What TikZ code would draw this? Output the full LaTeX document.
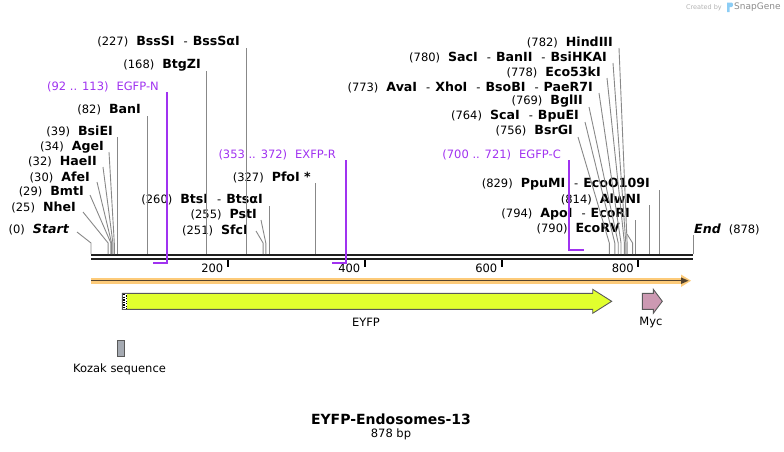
\documentclass[tikz,border=0pt]{standalone}
\usepackage{fontspec}
\setmainfont{DejaVu Sans}
\usetikzlibrary{positioning}
\definecolor{cutgray}{RGB}{136,136,136}
\definecolor{primercol}{RGB}{160,50,240}
\definecolor{eyfpcol}{RGB}{225,255,46}
\definecolor{myccol}{RGB}{204,153,178}
\definecolor{kozakcol}{RGB}{165,170,178}
\definecolor{seqorange}{RGB}{253,203,122}
\definecolor{seqbrown}{RGB}{85,68,45}
\definecolor{sgblue}{RGB}{140,205,245}
\newcommand{\nm}[1]{{\fontsize{12.6}{14}\selectfont\bfseries #1}}
\newcommand{\orsep}{\hspace{9pt}-\hspace{5pt}}

\begin{document}
\begin{tikzpicture}[x=1pt,y=-1pt,
  every node/.style={inner sep=0pt},
  lbl/.style={font=\fontsize{11.5}{13}\selectfont,anchor=east},
  plbl/.style={lbl,text=primercol},
  cut/.style={draw=cutgray,line width=0.9pt},
  prm/.style={draw=primercol,line width=2pt},
  feat/.style={draw=black!65,line width=0.9pt}]
\useasboundingbox (0,0) rectangle (784,451);

% sequence line
\draw[line width=2.3pt,black!88] (91,255.2) -- (693,255.2);
\draw[line width=2.3pt,black!88] (91,259.2) -- (693,259.2);

\draw[line width=2pt] (227.5,260) -- (227.5,267);
\draw[line width=2pt] (364.5,260) -- (364.5,267);
\draw[line width=2pt] (501.5,260) -- (501.5,267);
\draw[line width=2pt] (638,260) -- (638,267);
\node[lbl] (k200) at (223.5,268) {200};
\node[lbl] (k400) at (360.5,268) {400};
\node[lbl] (k600) at (497.5,268) {600};
\node[lbl] (k800) at (634,268) {800};

% sites on the sequence
\coordinate (s0) at (91,254);
\coordinate (s25) at (108.1,254);
\coordinate (s29) at (110.9,254);
\coordinate (s30) at (111.6,254);
\coordinate (s32) at (112.9,254);
\coordinate (s34) at (114.3,254);
\coordinate (s39) at (117.7,254);
\coordinate (s82) at (147.2,254);
\coordinate (s168) at (206.2,254);
\coordinate (s227) at (246.6,254);
\coordinate (s251) at (263.1,254);
\coordinate (s255) at (265.8,254);
\coordinate (s260) at (269.3,254);
\coordinate (s327) at (315.2,254);
\coordinate (s756) at (609.3,254);
\coordinate (s764) at (614.8,254);
\coordinate (s769) at (618.2,254);
\coordinate (s773) at (621,254);
\coordinate (s778) at (624.4,254);
\coordinate (s780) at (625.8,254);
\coordinate (s782) at (627.1,254);
\coordinate (s790) at (632.6,254);
\coordinate (s794) at (635.4,254);
\coordinate (s814) at (649.1,254);
\coordinate (s829) at (659.4,254);
\coordinate (s878) at (693,254);

% left group
\node[lbl] (n0) at (69,230) {(0)\hspace{8pt}\nm{\itshape Start}};
\node[lbl] (n25) at (76,207) {(25)\hspace{8pt}\nm{NheI}};
\node[lbl] (n29) at (84,192) {(29)\hspace{8pt}\nm{BmtI}};
\node[lbl] (n30) at (90,177) {(30)\hspace{8pt}\nm{AfeI}};
\node[lbl] (n32) at (97,162) {(32)\hspace{8pt}\nm{HaeII}};
\node[lbl] (n34) at (104,147) {(34)\hspace{8pt}\nm{AgeI}};
\node[lbl] (n39) at (113,131) {(39)\hspace{8pt}\nm{BsiEI}};
\node[lbl] (n82) at (141,110) {(82)\hspace{8pt}\nm{BanI}};
\node[lbl] (n168) at (201,65) {(168)\hspace{8pt}\nm{BtgZI}};
\node[lbl] (n227) at (240,42) {(227)\hspace{8pt}\nm{BssSI}\orsep\nm{BssSαI}};
\node[lbl] (n251) at (248,230) {(251)\hspace{8pt}\nm{SfcI}};
\node[lbl] (n255) at (257,215) {(255)\hspace{8pt}\nm{PstI}};
\node[lbl] (n260) at (263,200) {(260)\hspace{8pt}\nm{BtsI}\orsep\nm{BtsαI}};
\node[lbl] (n327) at (311,177) {(327)\hspace{8pt}\nm{PfoI *}};

\draw[cut] (s0) -- ++(0,-11) -- ([shift={(8,2)}]n0.east);
\draw[cut] (s25) -- ++(0,-11) -- ([shift={(7,5)}]n25.east);
\draw[cut] (s29) -- ++(0,-11) -- ([shift={(6,3)}]n29.east);
\draw[cut] (s30) -- ++(0,-11) -- ([shift={(7,5)}]n30.east);
\draw[cut] (s32) -- ++(0,-11) -- ([shift={(6,5)}]n32.east);
\draw[cut] (s34) -- ++(0,-11) -- ([shift={(5,5)}]n34.east);
\draw[cut] (s39) -- (s39 |- n39.south);
\draw[cut] (s82) -- (s82 |- n82.south);
\draw[cut] (s168) -- (s168 |- n168.south);
\draw[cut] (s227) -- (s227 |- n227.south);
\draw[cut] (s251) -- ++(0,-11) -- ([shift={(8,1)}]n251.east);
\draw[cut] (s255) -- ++(0,-11) -- ([shift={(4,5)}]n255.east);
\draw[cut] (s260) -- (s260 |- n260.south);
\draw[cut] (s327) -- (s327 |- n327.south);

% right group
\node[lbl] (n756) at (573,131) {(756)\hspace{8pt}\nm{BsrGI}};
\node[lbl] (n764) at (579,116) {(764)\hspace{8pt}\nm{ScaI}\orsep\nm{BpuEI}};
\node[lbl] (n769) at (583,101) {(769)\hspace{8pt}\nm{BglII}};
\node[lbl] (n773) at (593,87) {(773)\hspace{8pt}\nm{AvaI}\orsep\nm{XhoI}\orsep\nm{BsoBI}\orsep\nm{PaeR7I}};
\node[lbl] (n778) at (601,72) {(778)\hspace{8pt}\nm{Eco53kI}};
\node[lbl] (n780) at (607,57) {(780)\hspace{8pt}\nm{SacI}\orsep\nm{BanII}\orsep\nm{BsiHKAI}};
\node[lbl] (n782) at (613,42) {(782)\hspace{8pt}\nm{HindIII}};
\node[lbl] (n790) at (620,229) {(790)\hspace{8pt}\nm{EcoRV}};
\node[lbl] (n794) at (630,214) {(794)\hspace{8pt}\nm{ApoI}\orsep\nm{EcoRI}};
\node[lbl] (n814) at (641,199) {(814)\hspace{8pt}\nm{AlwNI}};
\node[lbl] (n829) at (650,184) {(829)\hspace{8pt}\nm{PpuMI}\orsep\nm{EcoO109I}};
\node[lbl,anchor=west] (n878) at (694,229) {\nm{\itshape End}\hspace{8pt}(878)};

\draw[cut] (s756) -- ++(0,-11) -- ([shift={(5,6)}]n756.east);
\draw[cut] (s764) -- ++(0,-11) -- ([shift={(6,6)}]n764.east);
\draw[cut] (s769) -- ++(0,-11) -- ([shift={(6,6)}]n769.east);
\draw[cut] (s773) -- ++(0,-11) -- ([shift={(6,6)}]n773.east);
\draw[cut] (s778) -- ++(0,-11) -- ([shift={(6,6)}]n778.east);
\draw[cut] (s780) -- ++(0,-11) -- ([shift={(6,6)}]n780.east);
\draw[cut] (s782) -- ++(0,-11) -- ([shift={(6,6)}]n782.east);
\draw[cut] (s790) -- ++(0,-11) -- ([shift={(7,5)}]n790.east);
\draw[cut] (s794) -- (s794 |- n794.south);
\draw[cut] (s814) -- (s814 |- n814.south);
\draw[cut] (s829) -- (s829 |- n829.south);
\draw[cut] (s878) -- (s878 |- n878.south);

% primers
\node[plbl] (p92) at (159,87) {(92 .. 113)\hspace{8pt}EGFP-N};
\node[plbl] (p353) at (336,155) {(353 .. 372)\hspace{8pt}EXFP-R};
\node[plbl] (p700) at (561,155) {(700 .. 721)\hspace{8pt}EGFP-C};
\coordinate (e92) at (153,263);
\coordinate (e113) at (167,263);
\coordinate (e353) at (332,263);
\coordinate (e372) at (346,263);
\coordinate (e700) at (569,250);
\coordinate (e721) at (584,250);
\draw[prm] (e113 |- p92.south) -- (e113) -- (e92);
\draw[prm] (e372 |- p353.south) -- (e372) -- (e353);
\draw[prm] (e700 |- p700.south) -- (e700) -- (e721);

% sequence direction bar
\fill[seqorange] (91,277.5) rectangle (684,284);
\fill[seqorange] (681,274.5) -- (691,280.7) -- (681,287) -- cycle;
\draw[seqbrown,line width=1.5pt] (91,280.7) -- (683,280.7);
\fill[seqbrown] (681,277.4) -- (688.5,280.7) -- (681,284) -- cycle;

% features
\draw[feat,fill=eyfpcol] (122.3,293.3) -- (592.7,293.3) -- (592.7,289.3) -- (611.7,301.3)
  -- (592.7,313.3) -- (592.7,309.3) -- (122.3,309.3) -- cycle;
\fill[white] (122.8,293.8) rectangle (127,308.8);
\draw[line width=1.3pt,dash pattern=on 1.3pt off 1.3pt] (124,294) -- (124,309);
\draw[line width=1.3pt,dash pattern=on 1.3pt off 1.3pt] (126.3,295.3) -- (126.3,309);
\node[font=\fontsize{11.5}{13}\selectfont] (eyfp) at (366,322) {EYFP};

\draw[feat,fill=myccol] (642.3,293.3) -- (653.3,293.3) -- (653.3,289.3) -- (662.3,301.3)
  -- (653.3,313.3) -- (653.3,309.3) -- (642.3,309.3) -- cycle;
\node[font=\fontsize{11.5}{13}\selectfont] (myc) at (651,322) {Myc};

\draw[feat,fill=kozakcol] (117.3,340) rectangle (124.7,356.3);
\node[font=\fontsize{11.5}{13}\selectfont] (kozak) at (119.5,369.3) {Kozak sequence};

% title
\node[font=\fontsize{14}{16}\selectfont\bfseries] (title) at (391,419) {EYFP-Endosomes-13};
\node[font=\fontsize{11.5}{13}\selectfont,below=4pt of title] (bp) {878 bp};

% credit
\node[anchor=east,font=\fontsize{6.5}{8}\selectfont,text=black!30] (cb) at (722,7.5) {Created by};
\fill[sgblue] (727,2.5) -- (731.5,2.5) .. controls (733.5,2.5) and (733.5,7) .. (731.5,7)
  -- (729.5,7) -- (729.5,12) -- (727,12) -- cycle;
\node[anchor=west,font=\fontsize{9}{10}\selectfont,text=black!45] (sg) at (734,7.5) {SnapGene};
\end{tikzpicture}
\end{document}
